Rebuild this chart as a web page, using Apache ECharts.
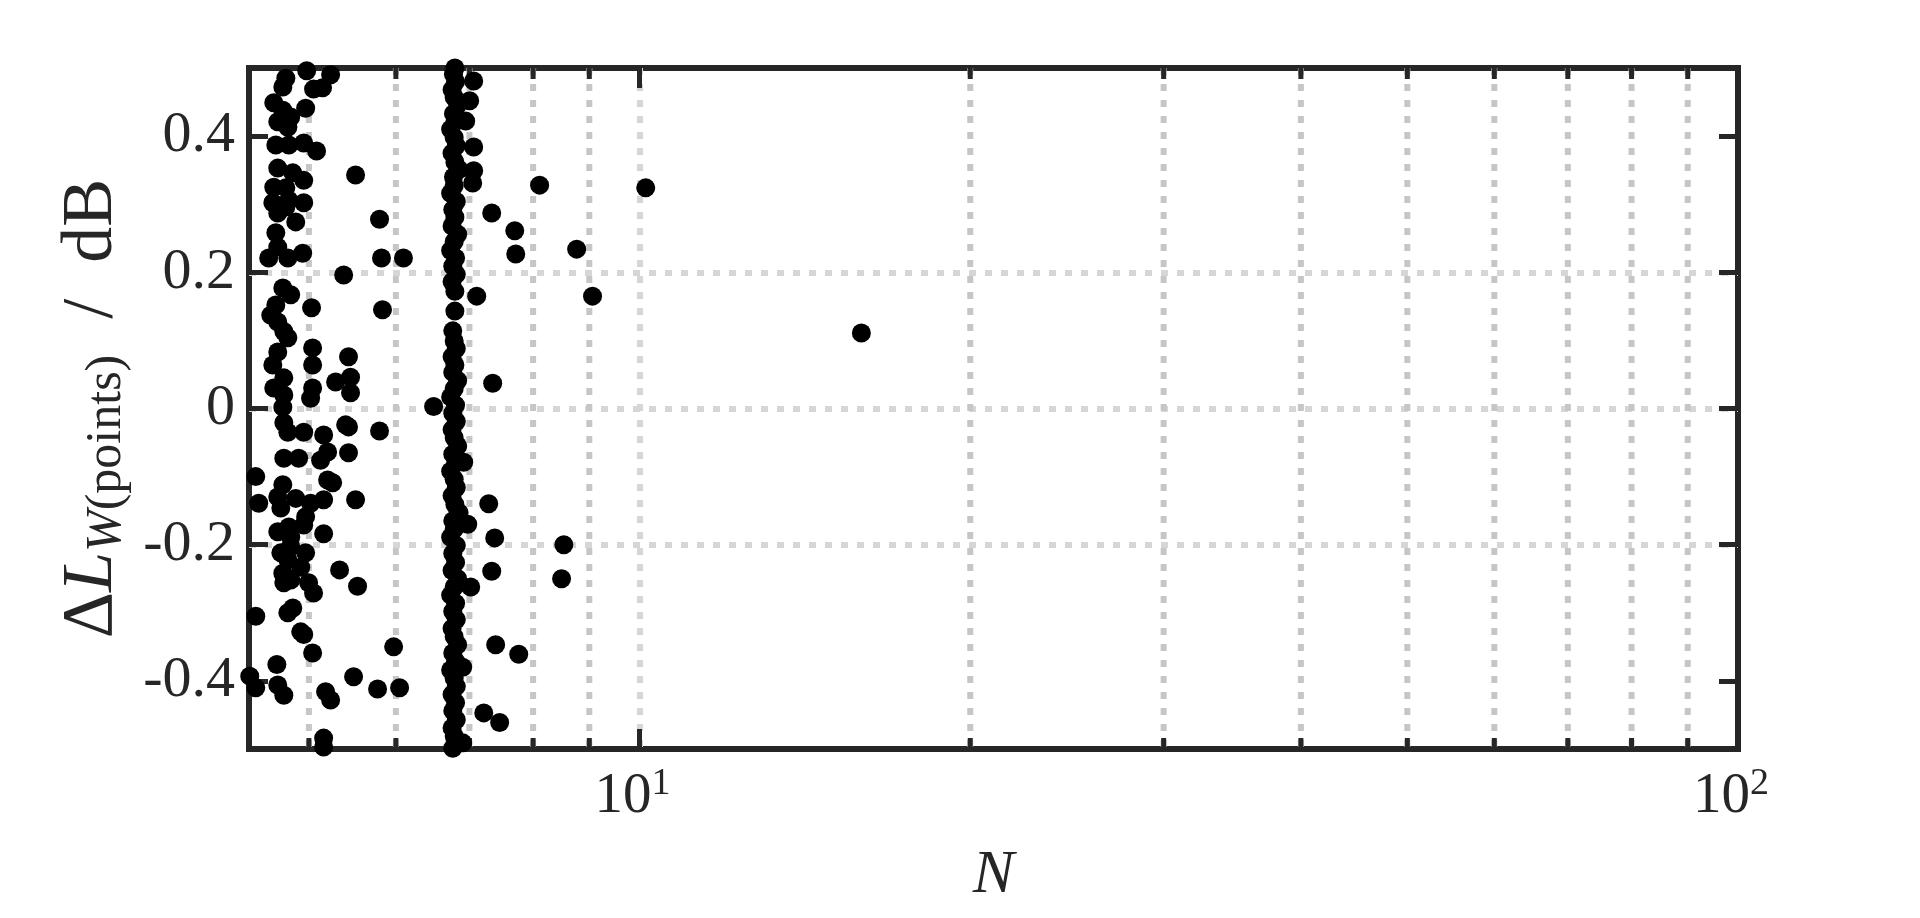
<!DOCTYPE html>
<html><head><meta charset="utf-8">
<script src="https://cdn.jsdelivr.net/npm/echarts@6/dist/echarts.min.js"></script>
<style>html,body{margin:0;padding:0;background:#fff}#c{width:1920px;height:918px}</style>
</head><body><div id="c"></div>
<script>
const xMin = 4.41, xMax = 100;
const yMin = -0.5, yMax = 0.5;
const yTicks = [-0.4, -0.2, 0, 0.2, 0.4];
const xMinorTicks = [5, 6, 7, 8, 9, 20, 30, 40, 50, 60, 70, 80, 90];

// scattered points, left cluster (N, dL)
const leftCluster = [
 [4.764,0.485],[4.734,0.472],[4.977,0.496],[5.233,0.490],[5.049,0.469],[5.145,0.471],
 [4.645,0.449],[4.734,0.438],[4.813,0.428],[4.684,0.421],[4.784,0.413],[4.966,0.441],
 [4.665,0.387],[4.794,0.387],[4.946,0.390],[5.081,0.378],[4.684,0.353],[4.834,0.346],
 [4.946,0.335],[5.514,0.343],[4.645,0.325],[4.764,0.324],[4.636,0.302],[4.794,0.306],
 [4.946,0.302],[4.684,0.287],[4.864,0.274],[4.764,0.296],[5.798,0.278],[4.665,0.258],
 [4.684,0.237],[4.596,0.221],[4.784,0.221],[4.935,0.228],[5.822,0.221],[6.096,0.221],
 [5.378,0.196],[4.734,0.177],[4.813,0.167],[4.665,0.152],[4.616,0.137],[4.684,0.127],
 [5.028,0.148],[5.834,0.145],[4.744,0.113],[4.784,0.104],[4.684,0.083],[4.636,0.064],
 [5.039,0.089],[5.039,0.064],[5.433,0.076],[4.744,0.045],[4.645,0.030],[4.744,0.020],
 [5.039,0.030],[5.018,0.015],[5.288,0.039],[5.456,0.046],[5.456,0.023],[6.494,0.003],
 [4.734,0.002],[4.744,-0.021],[4.784,-0.035],[4.946,-0.035],[5.157,-0.039],[5.400,-0.024],
 [5.433,-0.027],[5.798,-0.033],[4.744,-0.073],[4.894,-0.073],[5.124,-0.076],[5.200,-0.064],
 [5.433,-0.065],[4.473,-0.100],[4.734,-0.112],[4.684,-0.130],[4.714,-0.146],[4.864,-0.132],
 [4.501,-0.139],[5.018,-0.139],[4.966,-0.159],[4.946,-0.171],[5.157,-0.134],[5.200,-0.105],
 [5.255,-0.109],[5.514,-0.134],[4.684,-0.181],[4.794,-0.174],[4.813,-0.189],[5.157,-0.184],
 [4.714,-0.212],[4.813,-0.203],[4.966,-0.212],[4.784,-0.222],[4.915,-0.233],[4.734,-0.242],
 [4.744,-0.256],[4.813,-0.252],[5.332,-0.237],[4.997,-0.256],[5.049,-0.271],[5.537,-0.261],
 [4.473,-0.305],[4.834,-0.293],[4.784,-0.300],[4.915,-0.328],[4.946,-0.332],[5.039,-0.359],
 [4.675,-0.376],[5.972,-0.350],[4.417,-0.393],[4.473,-0.410],[4.684,-0.406],[4.744,-0.421],
 [5.178,-0.416],[5.233,-0.428],[5.491,-0.394],[5.774,-0.412],[6.047,-0.410],[5.157,-0.484],
 [5.157,-0.497]
];

// dense column near N = 6.8
const column = [
 [6.79,0.500],[6.77,0.491],[6.80,0.480],[6.75,0.468],[6.78,0.457],[6.83,0.446],[6.77,0.433],
 [6.79,0.421],[6.73,0.410],[6.78,0.398],[6.81,0.386],[6.75,0.375],[6.79,0.362],[6.85,0.351],
 [6.77,0.340],[6.78,0.327],[6.73,0.316],[6.81,0.304],[6.76,0.292],[6.79,0.281],[6.75,0.268],
 [6.83,0.256],[6.78,0.245],[6.73,0.232],[6.80,0.221],[6.76,0.209],[6.81,0.197],[6.75,0.186],
 [6.79,0.172],[6.79,0.143],[6.76,0.114],[6.78,0.099],[6.81,0.088],[6.75,0.076],[6.79,0.064],
 [6.76,0.053],[6.83,0.041],[6.78,0.029],[6.73,0.017],[6.80,0.005],[6.76,-0.007],[6.81,-0.019],
 [6.75,-0.031],[6.78,-0.043],[6.83,-0.055],[6.76,-0.067],[6.80,-0.080],[6.73,-0.092],[6.78,-0.104],
 [6.81,-0.116],[6.75,-0.128],[6.79,-0.141],[6.85,-0.153],[6.76,-0.165],[6.78,-0.177],[6.73,-0.189],
 [6.81,-0.201],[6.76,-0.213],[6.80,-0.226],[6.75,-0.238],[6.83,-0.250],[6.78,-0.262],[6.73,-0.274],
 [6.80,-0.286],[6.76,-0.298],[6.81,-0.310],[6.75,-0.323],[6.78,-0.335],[6.83,-0.347],[6.76,-0.359],
 [6.80,-0.371],[6.73,-0.384],[6.78,-0.396],[6.81,-0.408],[6.75,-0.420],[6.80,-0.432],[6.76,-0.444],
 [6.81,-0.457],[6.75,-0.469],[6.78,-0.481],[6.80,-0.493],[6.76,-0.499]
];

// scattered points right of the column
const rightScatter = [
 [7.063,0.481],[7.004,0.452],[6.946,0.422],[7.063,0.384],[7.063,0.349],[7.048,0.331],
 [8.110,0.328],[10.13,0.324],[7.335,0.287],[7.698,0.261],[7.714,0.227],[8.765,0.234],
 [7.108,0.165],[9.061,0.165],[7.350,0.037],[15.92,0.111],[7.289,-0.140],[6.975,-0.170],
 [7.381,-0.190],[8.532,-0.200],[7.335,-0.239],[8.492,-0.250],[7.019,-0.262],[7.396,-0.347],
 [7.762,-0.361],[6.917,-0.079],[6.902,-0.380],[7.214,-0.447],[7.458,-0.461],[6.902,-0.491]
];

const INK = '#262626';
const FONT = 'Liberation Serif, DejaVu Serif, serif';
const chart = echarts.init(document.getElementById('c'), null, {renderer: 'canvas'});

function xAxisCfg(pos, showLabel) {
  return {
    type: 'log', logBase: 10, min: xMin, max: xMax, position: pos,
    axisLine: {show: false, onZero: false},
    axisTick: {show: true, inside: true, length: 20, lineStyle: {color: INK, width: 5}},
    splitLine: {show: pos === 'bottom', showMinLine: false, showMaxLine: false,
      lineStyle: {color: '#d6d6d6', width: 6, type: [7, 9]}},
    axisLabel: {
      show: showLabel, margin: 16, color: INK, fontFamily: FONT,
      formatter: function (v) {
        if (Math.abs(v - 10) < 1e-6) return '{b|10}{s|1}';
        if (Math.abs(v - 100) < 1e-6) return '{b|10}{s|2}';
        return '';
      },
      rich: {
        b: {fontSize: 57, fontFamily: FONT, color: INK, lineHeight: 64},
        s: {fontSize: 38, fontFamily: FONT, color: INK, lineHeight: 30, verticalAlign: 'top', padding: [0, 14, 0, 0]}
      }
    },
    name: showLabel ? 'N' : '', nameLocation: 'middle', nameGap: 96,
    nameTextStyle: {fontSize: 62, fontStyle: 'italic', fontFamily: FONT, color: INK}
  };
}
function yAxisCfg(pos, showLabel) {
  return {
    type: 'value', min: yMin, max: yMax, interval: 0.1, position: pos,
    axisLine: {show: false, onZero: false},
    axisTick: {show: true, inside: true, length: 19, customValues: yTicks, lineStyle: {color: INK, width: 5}},
    splitLine: {show: pos === 'left', showMinLine: false, showMaxLine: false,
      lineStyle: {color: '#d6d6d6', width: 6, type: [7, 9]}},
    axisLabel: {
      show: showLabel, customValues: yTicks, margin: 14, color: INK, fontSize: 58, fontFamily: FONT,
      formatter: v => (Math.abs(v) < 1e-9 ? '0' : v.toFixed(1))
    },
    name: showLabel ? '{d|Δ}{L|L}{w|W}{p|(points)}{d|  /  dB}' : '',
    nameLocation: 'middle', nameGap: 112, nameRotate: 90,
    nameTextStyle: {
      color: INK, fontFamily: FONT,
      rich: {
        d: {fontSize: 72, fontFamily: FONT, color: INK, lineHeight: 80},
        L: {fontSize: 72, fontFamily: FONT, fontStyle: 'italic', color: INK, lineHeight: 80},
        w: {fontSize: 50, fontFamily: FONT, fontStyle: 'italic', color: INK, lineHeight: 34, verticalAlign: 'bottom'},
        p: {fontSize: 50, fontFamily: FONT, color: INK, lineHeight: 34, verticalAlign: 'bottom'}
      }
    }
  };
}

const option = {
  animation: false,
  backgroundColor: '#ffffff',
  grid: {left: 249, right: 182, top: 68, bottom: 169, show: true, borderColor: INK, borderWidth: 6, backgroundColor: '#ffffff'},
  xAxis: [xAxisCfg('bottom', true), xAxisCfg('top', false)],
  yAxis: [yAxisCfg('left', true), yAxisCfg('right', false)],
  series: [
    {
      type: 'custom', xAxisIndex: 0, yAxisIndex: 0, z: 1, silent: true, clip: false,
      data: xMinorTicks.map(v => [v, 0]),
      renderItem: function (params, api) {
        const v = api.value(0);
        const p1 = api.coord([v, yMax]);
        const p2 = api.coord([v, yMin]);
        const x = p1[0];
        return {type: 'group', children: [
          {type: 'line', shape: {x1: x, y1: p1[1], x2: x, y2: p2[1]}, style: {stroke: '#c6c6c6', lineWidth: 6, lineDash: [7, 9]}},
          {type: 'line', shape: {x1: x, y1: p1[1], x2: x, y2: p1[1] + 11}, style: {stroke: INK, lineWidth: 5}},
          {type: 'line', shape: {x1: x, y1: p2[1], x2: x, y2: p2[1] - 11}, style: {stroke: INK, lineWidth: 5}}
        ]};
      }
    },
    {type: 'scatter', name: 'left', data: leftCluster, symbolSize: 19, itemStyle: {color: '#000', opacity: 1}, z: 3},
    {type: 'scatter', name: 'column', data: column, symbolSize: 19, itemStyle: {color: '#000', opacity: 1}, z: 3},
    {type: 'scatter', name: 'right', data: rightScatter, symbolSize: 19, itemStyle: {color: '#000', opacity: 1}, z: 3}
  ]
};
chart.setOption(option);
</script></body></html>
